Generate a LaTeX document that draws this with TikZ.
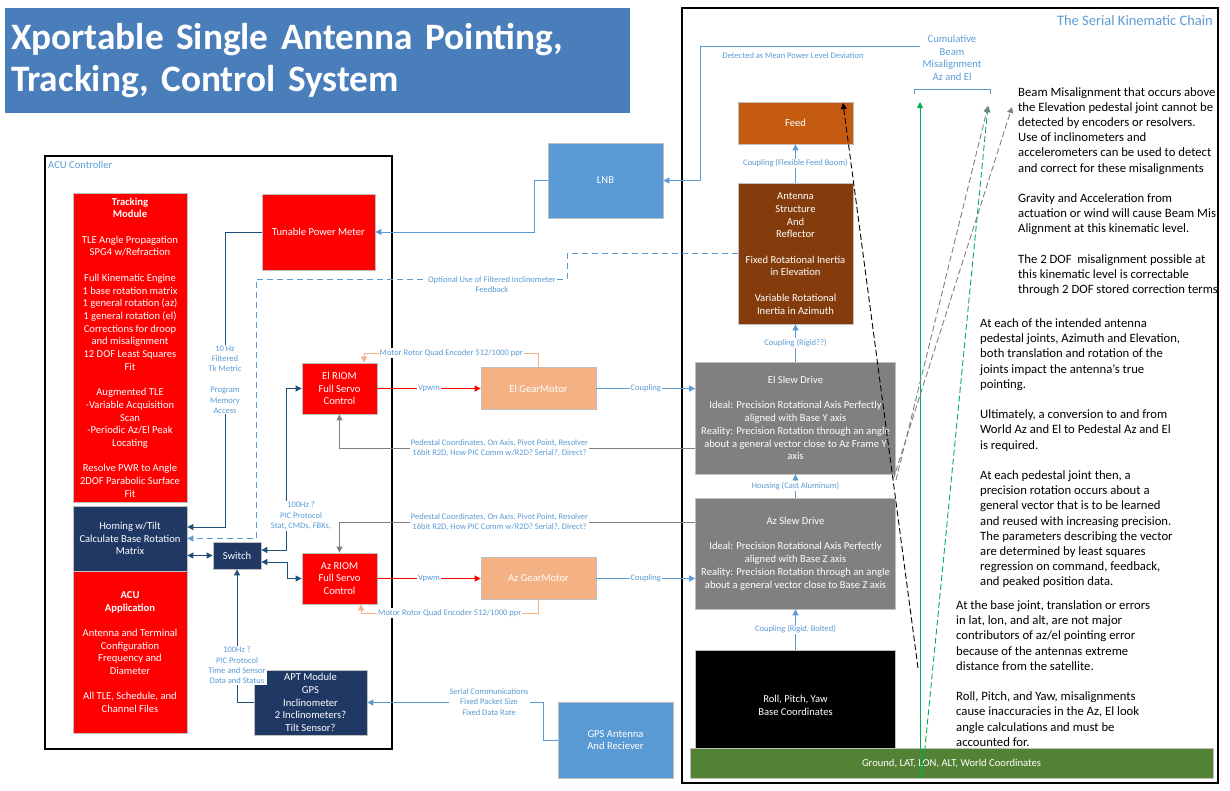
\documentclass[tikz,border=0pt]{standalone}
\usepackage{fontspec}
\setmainfont{Carlito}
\usepackage{tikz}
\usetikzlibrary{arrows.meta,positioning,calc}
\definecolor{C_title}{RGB}{74,126,187}
\definecolor{C_lblue}{RGB}{91,155,213}
\definecolor{C_navy}{RGB}{31,56,100}
\definecolor{C_navyline}{RGB}{31,78,121}
\definecolor{C_red}{RGB}{255,0,0}
\definecolor{C_peach}{RGB}{244,177,131}
\definecolor{C_feed}{RGB}{197,90,17}
\definecolor{C_brown}{RGB}{132,60,12}
\definecolor{C_gray}{RGB}{128,128,128}
\definecolor{C_ground}{RGB}{84,130,53}
\definecolor{C_green}{RGB}{0,176,80}
\definecolor{C_edge}{RGB}{191,191,191}
\newcommand\titlefont{\fontsize{37.3}{42}\selectfont\bfseries}
\newcommand\boxfont{\fontsize{10.6}{12.7}\selectfont}
\newcommand\lblfont{\fontsize{8.5}{10.4}\selectfont}
\newcommand\notefont{\fontsize{12.7}{15.2}\selectfont}

\begin{document}
\begin{tikzpicture}[x=1pt, y=-1pt, every node/.style={inner sep=1pt}]
  \tikzset{
    box/.style={rectangle, draw=C_edge, line width=0.8pt, text=white, font=\boxfont, align=center, inner sep=0pt},
    redbox/.style={box, fill=C_red},
    navybox/.style={box, fill=C_navy},
    peachbox/.style={box, fill=C_peach},
    bluebox/.style={box, fill=C_lblue},
    feedbox/.style={box, fill=C_feed},
    brownbox/.style={box, fill=C_brown},
    graybox/.style={box, fill=C_gray},
    blackbox/.style={box, fill=black},
    groundbox/.style={box, fill=C_ground},
    titlebox/.style={rectangle, fill=C_title, text=white, font=\titlefont, align=left, text width=613pt, inner xsep=6pt, inner ysep=0pt, minimum height=105pt},
    frame/.style={rectangle, draw=black, line width=1.1pt, inner sep=0pt},
    headed/.style={-{Triangle[length=6pt, width=6pt]}},
    both/.style={{Triangle[length=6pt, width=6pt]}-{Triangle[length=6pt, width=6pt]}},
    bline/.style={headed, draw=C_lblue, line width=0.9pt},
    nline/.style={headed, draw=C_navyline, line width=0.9pt},
    rline/.style={headed, draw=C_red, line width=0.9pt},
    pline/.style={headed, draw=C_peach, line width=0.9pt},
    gline/.style={headed, draw=C_gray, line width=0.9pt},
    greenline/.style={headed, draw=C_green, line width=0.9pt},
    kdash/.style={headed, draw=black, line width=0.9pt, dash pattern=on 6pt off 3pt},
    gdash/.style={headed, draw=C_gray, line width=0.9pt, dash pattern=on 6pt off 3pt},
    lbl/.style={font=\lblfont, text=C_lblue, align=center, fill=white, inner sep=1pt},
    note/.style={font=\notefont, align=left, anchor=north west, inner sep=0pt}
  }
  \useasboundingbox (0,0) rectangle (1230,790);

  % title and frames
  \node[titlebox] (title) at (317.5,60.5) {Xportable Single Antenna Pointing,\\Tracking, Control System};
  \node[frame, minimum width=347pt, minimum height=593pt] (acu) at (218.5,452.5) {};
  \node[frame, minimum width=536pt, minimum height=775pt] (chain) at (950,395.5) {};
  \node[anchor=west, font=\fontsize{10.6}{12}\selectfont, text=C_lblue] (acutitle) at (47,165) {ACU Controller};
  \node[anchor=east, font=\fontsize{14.5}{16}\selectfont, text=C_lblue] (chaintitle) at (1214,21) {The Serial Kinematic Chain};

  % ACU controller
  \node[redbox, minimum width=114pt, minimum height=309pt] (track) at (130,347.5) {\textbf{Tracking}\\\textbf{Module}\\~\\TLE Angle Propagation\\SPG4 w/Refraction\\~\\Full Kinematic Engine\\1 base rotation matrix\\1 general rotation (az)\\1 general rotation (el)\\Corrections for droop\\and misalignment\\12 DOF Least Squares\\Fit\\~\\Augmented TLE\\-Variable Acquisition\\Scan\\-Periodic Az/El Peak\\Locating\\~\\Resolve PWR to Angle\\2DOF Parabolic Surface\\Fit};
  \node[navybox, minimum width=114pt, minimum height=65pt] (homing) at (130,538.5) {Homing w/Tilt\\Calculate Base Rotation\\Matrix};
  \node[redbox, minimum width=114pt, minimum height=162pt] (acuapp) at (130,652) {\textbf{ACU}\\\textbf{Application}\\~\\Antenna and Terminal\\Configuration\\Frequency and\\Diameter\\~\\All TLE, Schedule, and\\Channel Files};
  \node[redbox, minimum width=113pt, minimum height=76pt] (tpm) at (318.5,232) {Tunable Power Meter};
  \node[navybox, minimum width=48pt, minimum height=27pt] (switch) at (237,555.5) {Switch};
  \node[redbox, minimum width=75pt, minimum height=51pt] (elriom) at (339.5,388.5) {El RIOM\\Full Servo\\Control};
  \node[redbox, minimum width=75pt, minimum height=51pt] (azriom) at (339.5,578.5) {Az RIOM\\Full Servo\\Control};
  \node[peachbox, minimum width=115pt, minimum height=42pt] (elgm) at (538.5,388.5) {El GearMotor};
  \node[peachbox, minimum width=115pt, minimum height=42pt] (azgm) at (538.5,578.5) {Az GearMotor};
  \node[navybox, minimum width=113pt, minimum height=65pt] (apt) at (310.5,702.5) {APT Module\\GPS\\Inclinometer\\2 Inclinometers?\\Tilt Sensor?};
  \node[bluebox, minimum width=115pt, minimum height=75pt] (lnb) at (605.5,180.5) {LNB};
  \node[bluebox, minimum width=115pt, minimum height=76pt] (gps) at (615.5,740) {GPS Antenna\\And Reciever};

  % kinematic chain
  \node[feedbox, minimum width=115pt, minimum height=42pt] (feed) at (795.5,123) {Feed};
  \node[brownbox, minimum width=115pt, minimum height=141pt] (ant) at (795.5,253.5) {Antenna\\Structure\\And\\Reflector\\~\\Fixed Rotational Inertia\\in Elevation\\~\\Variable Rotational\\Inertia in Azimuth};
  \node[graybox, minimum width=200pt, minimum height=112pt] (elslew) at (795.5,418) {El Slew Drive\\~\\Ideal: Precision Rotational Axis Perfectly\\aligned with Base Y axis\\Reality: Precision Rotation through an angle\\about a general vector close to Az Frame Y\\axis};
  \node[graybox, minimum width=200pt, minimum height=111pt] (azslew) at (795.5,553.5) {Az Slew Drive\\~\\Ideal: Precision Rotational Axis Perfectly\\aligned with Base Z axis\\Reality: Precision Rotation through an angle\\about a general vector close to Base Z axis};
  \node[blackbox, minimum width=200pt, minimum height=110pt] (rpy) at (795.5,705) {Roll, Pitch, Yaw\\Base Coordinates};
  \node[groundbox, minimum width=523pt, minimum height=30pt] (ground) at (951.5,763) {Ground, LAT, LON, ALT, World Coordinates};

  % power and tracking paths
  \node[lbl, fill=none, font=\fontsize{10.6}{12.7}\selectfont] (cum) at (952,58) {Cumulative\\Beam\\Misalignment\\Az and El};
  \coordinate (detstart) at (920,46);
  \draw[bline] (detstart) -- (700,46) -- (700,180.5) -- (lnb.east);
  \node[lbl] (detlbl) at (793,56) {Detected as Mean Power Level Deviation};
  \draw[bline] (lnb.west) -- (534,180.5) |- (tpm.east);
  \draw[nline] (tpm.west) -| (225,527) -- (homing.east |- 0,527);
  \node[lbl] (tklbl) at (225,379.5) {10 Hz\\Filtered\\Tk Metric\\~\\Program\\Memory\\Access};
  \draw[bline, dash pattern=on 6pt off 4pt] (ant.west) -- (567,253.5) -- (567,279) -- (256,279) -- (256,538.5) -- (homing.east);
  \node[lbl] (optlbl) at (492,284.5) {Optional Use of Filtered Inclinometer\\Feedback};

  % switch bus
  \draw[nline, both] (switch.east |- 0,550) -- (286,550) |- (elriom.west);
  \node[lbl] (pic1) at (301,516) {100Hz ?\\PIC Protocol\\Stat, CMDs, FBKs,};
  \draw[nline, both] (switch.east |- 0,562) -- (287,562) |- (azriom.west);
  \draw[nline, both] (homing.east |- switch.west) -- (switch.west);
  \draw[nline] (apt.west) -| (switch.south);
  \node[lbl] (pic2) at (237,665.5) {100Hz ?\\PIC Protocol\\Time and Sensor\\Data and Status};
  \draw[bline] (gps.west) -- (543,740) |- (apt.east);
  \node[lbl] (serlbl) at (489,702) {Serial Communications\\Fixed Packet Size\\Fixed Data Rate};

  % drives
  \draw[rline] (elriom.east) -- node[lbl] {Vpwm} (elgm.west);
  \draw[rline] (azriom.east) -- node[lbl] {Vpwm} (azgm.west);
  \draw[bline] (elgm.east) -- node[lbl] {Coupling} (elslew.west |- elgm.east);
  \draw[bline] (azgm.east) -- node[lbl] {Coupling} (azslew.west |- azgm.east);
  \draw[pline] (elgm.north) -- (538.5,353) -- node[lbl] {Motor Rotor Quad Encoder 512/1000 ppr} (364,353) -- (elriom.north -| 364,0);
  \draw[pline] (azgm.south) -- (538.5,613) -- node[lbl] {Motor Rotor Quad Encoder 512/1000 ppr} (361,613) -- (azriom.south -| 361,0);
  \draw[gline] (elslew.west |- 0,448) -- node[lbl, pos=0.55] {Pedestal Coordinates, On Axis, Pivot Point, Resolver\\16bit R2D, How PIC Comm w/R2D? Serial?, Direct?} (339.5,448) -- (elriom.south);
  \draw[gline] (azslew.west |- 0,522) -- node[lbl, pos=0.55] {Pedestal Coordinates, On Axis, Pivot Point, Resolver\\16bit R2D, How PIC Comm w/R2D? Serial?, Direct?} (339.5,522) -- (azriom.north);

  % chain couplings
  \draw[bline] (ant.north) -- node[lbl] {Coupling (Flexible Feed Boom)} (feed.south);
  \draw[bline] (elslew.north) -- node[lbl] {Coupling (Rigid??)} (ant.south);
  \draw[bline] (azslew.north) -- node[lbl] {Housing (Cast Aluminum)} (elslew.south);
  \draw[bline] (rpy.north) -- node[lbl] {Coupling (Rigid, Bolted)} (azslew.south);

  % misalignment arrows
  \coordinate (gbase) at (920,778);
  \coordinate (gtop) at (920,102);
  \coordinate (gdbase) at (922,778);
  \coordinate (gdtop) at (988,106);
  \coordinate (kbase) at (918,668);
  \coordinate (ktop) at (843,103);
  \coordinate (joint) at (893,480);
  \coordinate (gytop) at (1012,107);
  \draw[greenline] (gbase) -- (gtop);
  \draw[greenline, dash pattern=on 6pt off 3pt] (gdbase) -- (gdtop);
  \draw[kdash] (kbase) -- (ktop);
  \draw[gdash] (joint) -- (gytop);
  \draw[gdash] ([xshift=3pt]joint) -- (gdtop);
  \draw[C_lblue, line width=0.8pt] (914,94) -- (914,89) -- (990,89) -- (990,94);

  % notes
  \node[note] (n1) at (1018,87) {Beam Misalignment that occurs above\\the Elevation pedestal joint cannot be\\detected by encoders or resolvers.\\Use of inclinometers and\\accelerometers can be used to detect\\and correct for these misalignments\\~\\Gravity and Acceleration from\\actuation or wind will cause Beam Mis\\Alignment at this kinematic level.\\~\\The 2 DOF\ \ misalignment possible at\\this kinematic level is correctable\\through 2 DOF stored correction terms};
  \node[note] (n2) at (980,318.5) {At each of the intended antenna\\pedestal joints, Azimuth and Elevation,\\both translation and rotation of the\\joints impact the antenna’s true\\pointing.\\~\\Ultimately, a conversion to and from\\World Az and El to Pedestal Az and El\\is required.\\~\\At each pedestal joint then, a\\precision rotation occurs about a\\general vector that is to be learned\\and reused with increasing precision.\\The parameters describing the vector\\are determined by least squares\\regression on command, feedback,\\and peaked position data.};
  \node[note] (n3) at (956,600.5) {At the base joint, translation or errors\\in lat, lon, and alt, are not major\\contributors of az/el pointing error\\because of the antennas extreme\\distance from the satellite.\\~\\Roll, Pitch, and Yaw, misalignments\\cause inaccuracies in the Az, El look\\angle calculations and must be\\accounted for.};
\end{tikzpicture}
\end{document}
